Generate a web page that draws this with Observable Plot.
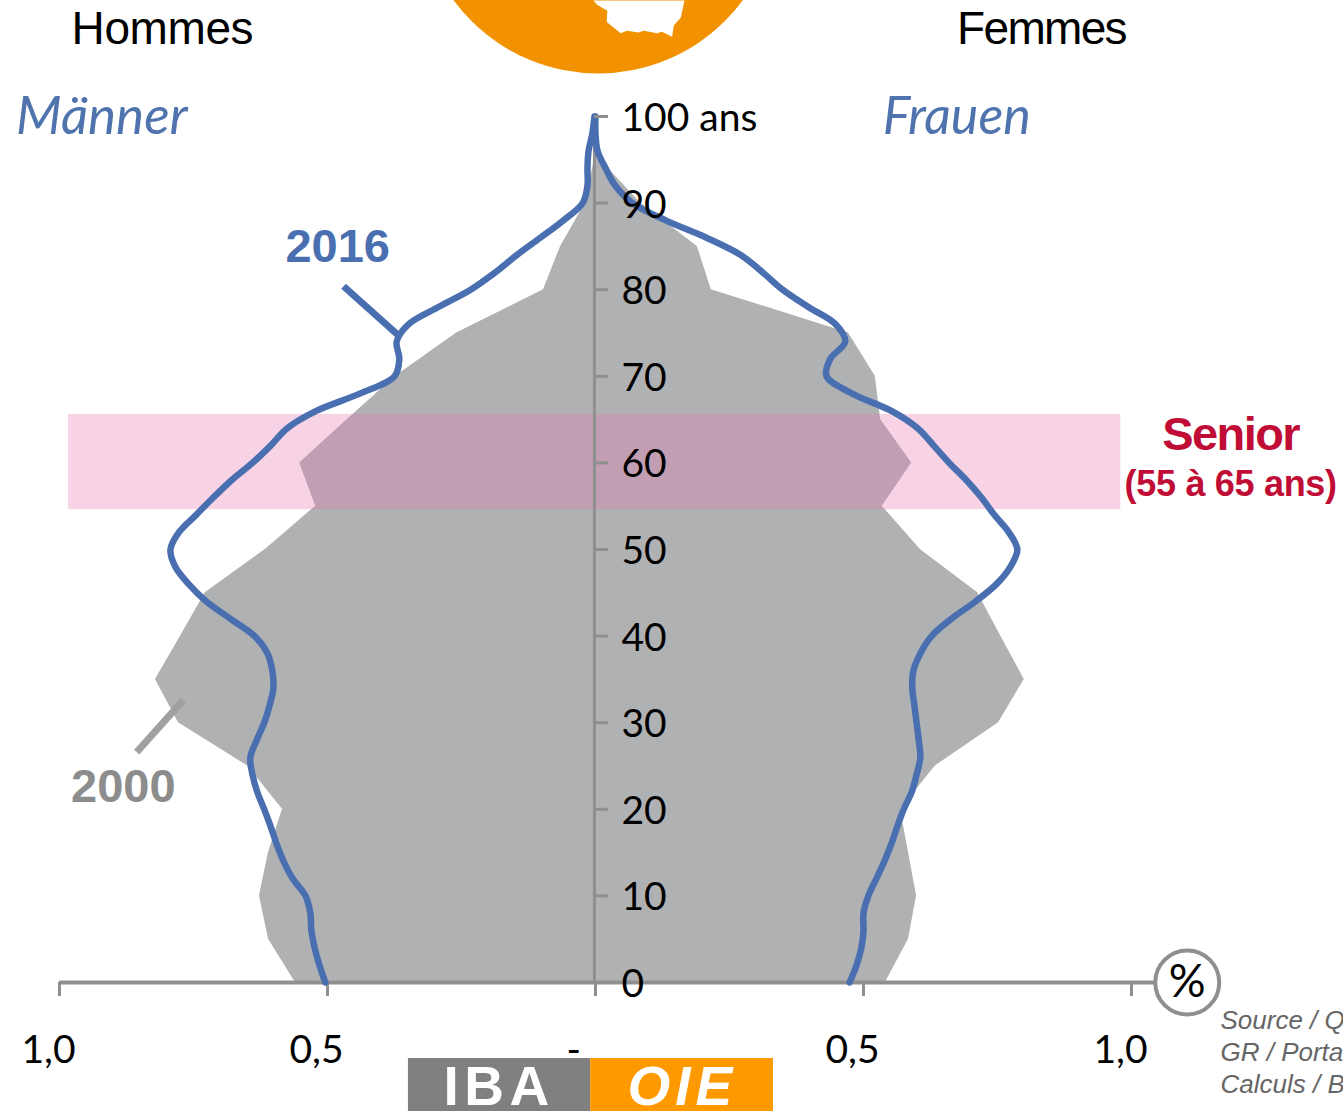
<!DOCTYPE html>
<html><head><meta charset="utf-8">
<style>html,body{margin:0;padding:0;background:#fff;overflow:hidden}
.ls-hommes text{letter-spacing:-.4px}
.ls-femmes text{letter-spacing:-1.7px}
.ls-senior text{letter-spacing:-1.6px}
.ls-range text{letter-spacing:-.3px}
.ls-iba text{letter-spacing:5.5px}
.ls-oie text{letter-spacing:5px}
</style>
<script src="https://cdn.jsdelivr.net/npm/d3@7"></script>
<script src="https://cdn.jsdelivr.net/npm/@observablehq/plot@0.6"></script>
</head><body><div id="chart"></div>
<script>
const ages2000=[0,5,10,15,20,25,30,35,40,45,50,55,60,65,70,75,80,85,90,95,100];
const men2000=[.560,.610,.627,.610,.584,.649,.778,.821,.774,.728,.616,.522,.552,.463,.373,.259,.097,.065,.019,.002,.002];
const women2000=[.541,.584,.599,.584,.569,.634,.752,.800,.756,.713,.606,.535,.590,.532,.522,.472,.216,.190,.084,.009,0];
const ages2016=[0,2,4,6,8,10,12,14,16,18,20,22,24,26,28,30,32,34,36,38,40,42,44,46,48,50,52,54,56,58,60,62,64,66,68,70,72,74,76,78,80,82,84,86,88,90,92,94,96,98,100];
const men2016=[.504,.515,.524,.530,.532,.541,.565,.582,.595,.606,.618,.631,.640,.644,.632,.618,.608,.601,.603,.612,.636,.681,.726,.759,.784,.793,.777,.745,.713,.679,.640,.606,.575,.521,.440,.375,.366,.371,.349,.293,.233,.187,.147,.103,.060,.024,.015,.015,.013,.006,.002];
const women2016=[.474,.487,.496,.500,.500,.509,.524,.539,.552,.563,.575,.590,.599,.606,.603,.599,.595,.591,.593,.606,.627,.664,.709,.748,.774,.787,.771,.744,.720,.692,.660,.631,.601,.552,.479,.431,.438,.466,.448,.397,.349,.312,.271,.207,.131,.069,.037,.019,.004,0,0];
const xTicks=[-1,-.5,0,.5,1];
const xTickLabels=["1,0","0,5","-","0,5","1,0"];
const yTicks=[0,10,20,30,40,50,60,70,80,90,100];
const seniorAges=[54.6,65.6];
const logoX=[-.004,.003,.022,.021,.047,.059,.080,.090,.115,.124,.143,.146,.159,.166];
const logoAge=[113.4,112.9,112.2,110.9,109.6,109.9,109.7,109.9,109.6,109.8,109.2,110.5,111.4,113.4];

const table2000=ages2000.map((age,i)=>({age,m:-men2000[i],f:women2000[i]}));
const table2016=ages2016.map((age,i)=>({age,m:-men2016[i],f:women2016[i]}));
const logoShape=logoX.map((x,i)=>({x,y:logoAge[i]}));
const xLabels=xTicks.map((x,i)=>({x:x===0?-.02:x,t:xTickLabels[i]}));
const sans="'Liberation Sans',Arial,sans-serif", lato="Lato,Carlito,sans-serif";
const label=(text,x,y,o)=>Plot.text([text],{x:()=>x,y:()=>y,text:d=>d,lineAnchor:"middle",...o});

const plot=Plot.plot({
  width:1343,height:1111,marginTop:116,marginBottom:129,marginLeft:59,marginRight:212,
  x:{domain:[-1,1],label:null},y:{domain:[0,100],label:null},
  style:{background:"#fff"},
  marks:[
    Plot.dot([{x:.005,y:125.7}],{x:"x",y:"y",r:179.5,fill:"#f39200"}),
    Plot.line(logoShape,{x:"x",y:"y",fill:"#fff",stroke:"none"}),
    Plot.areaX(table2000,{y:"age",x1:"m",x2:"f",fill:"#b0b1b3"}),
    Plot.rectY([{y1:seniorAges[0],y2:seniorAges[1]}],{x1:()=>-.983,x2:()=>.98,y1:"y1",y2:"y2",fill:"#e87ab0",fillOpacity:.33}),
    Plot.ruleY([0],{x1:()=>-1,x2:()=>1.1,stroke:"#8f8f8f",strokeWidth:4}),
    Plot.ruleX([-.002],{y1:()=>0,y2:()=>100,stroke:"#8f8f8f",strokeWidth:3}),
    Plot.axisX({ticks:xTicks,anchor:"bottom",tickSize:14,stroke:"#8f8f8f",strokeWidth:3,tickFormat:()=>""}),
    Plot.text(xLabels,{x:"x",y:()=>-7.8,dx:-11,text:"t",fontFamily:lato,fontSize:39,fill:"#000",lineAnchor:"middle"}),
    Plot.line(table2016,{x:"m",y:"age",stroke:"#4a6fb1",strokeWidth:6.5,curve:"catmull-rom"}),
    Plot.line(table2016,{x:"f",y:"age",stroke:"#4a6fb1",strokeWidth:6.5,curve:"catmull-rom"}),
    Plot.axisY({ticks:yTicks,anchor:"right",dx:-538,tickSize:14,stroke:"#8f8f8f",strokeWidth:3,tickFormat:()=>""}),
    Plot.axisY({ticks:yTicks,anchor:"right",dx:-538,dy:2,tickSize:0,tickPadding:28,fill:"#000",
      tickFormat:d=>d===100?"100 ans":String(d),fontFamily:lato,fontSize:39}),
    Plot.link([{x1:-.470,y1:80.4,x2:-.369,y2:74.8}],{x1:"x1",y1:"y1",x2:"x2",y2:"y2",stroke:"#4a6fb1",strokeWidth:7}),
    Plot.link([{x1:-.769,y1:32.6,x2:-.856,y2:26.6}],{x1:"x1",y1:"y1",x2:"x2",y2:"y2",stroke:"#a0a0a0",strokeWidth:7}),
    Plot.dot([{x:1.104,y:0}],{x:"x",y:"y",r:32,fill:"#fff",stroke:"#8f8f8f",strokeWidth:4}),
    label("%",1.104,0,{fontFamily:lato,fontSize:46,fill:"#000"}),
    label("Hommes",-.808,110.1,{fontFamily:sans,fontSize:46,className:"ls-hommes",fill:"#000"}),
    label("Femmes",.832,110.1,{fontFamily:sans,fontSize:46,className:"ls-femmes",fill:"#000"}),
    label("Männer",-.921,99.9,{fontFamily:lato,fontSize:53,fontStyle:"italic",fill:"#4f74ad"}),
    label("Frauen",.674,99.9,{fontFamily:lato,fontSize:52,fontStyle:"italic",fill:"#4f74ad"}),
    label("2016",-.481,84.9,{fontFamily:sans,fontSize:47,fontWeight:"bold",fill:"#4a6fb1"}),
    label("2000",-.881,22.6,{fontFamily:sans,fontSize:47,fontWeight:"bold",fill:"#8c8c8c"}),
    label("Senior",1.185,63.2,{fontFamily:sans,fontSize:47,fontWeight:"bold",className:"ls-senior",fill:"#c00d35"}),
    label("(55 à 65 ans)",1.185,57.5,{fontFamily:sans,fontSize:36,fontWeight:"bold",className:"ls-range",fill:"#c00d35"}),
    Plot.rect([{x1:-.349,x2:-.009,y1:-8.78,y2:-14.9}],{x1:"x1",x2:"x2",y1:"y1",y2:"y2",fill:"#808080"}),
    Plot.rect([{x1:-.009,x2:.332,y1:-8.78,y2:-14.9}],{x1:"x1",x2:"x2",y1:"y1",y2:"y2",fill:"#ff9900"}),
    label("IBA",-.180,-12.1,{fontFamily:sans,fontSize:55,fontWeight:"bold",className:"ls-iba",fill:"#fff"}),
    label("OIE",.162,-12.1,{fontFamily:sans,fontSize:55,fontWeight:"bold",fontStyle:"italic",className:"ls-oie",fill:"#fff"}),
    label("Source / Q",1.166,-4.4,{fontFamily:sans,fontSize:26,fontStyle:"italic",textAnchor:"start",fill:"#666"}),
    label("GR / Porta",1.166,-8.1,{fontFamily:sans,fontSize:26,fontStyle:"italic",textAnchor:"start",fill:"#666"}),
    label("Calculs / B",1.166,-11.8,{fontFamily:sans,fontSize:26,fontStyle:"italic",textAnchor:"start",fill:"#666"})
  ]
});
document.getElementById("chart").append(plot);
</script></body></html>
